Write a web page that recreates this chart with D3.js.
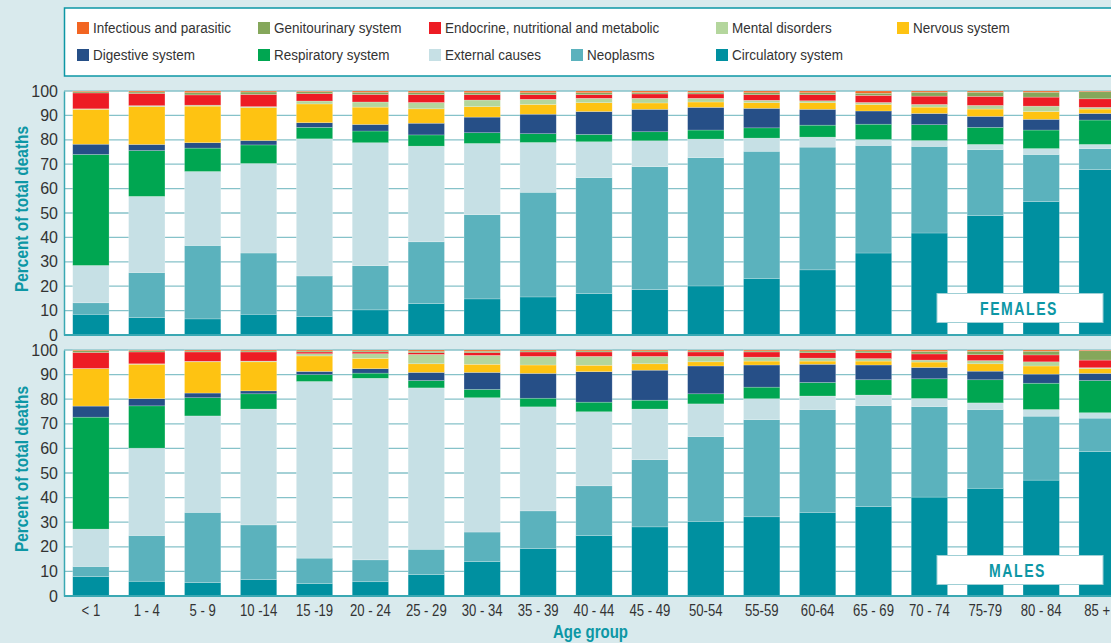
<!DOCTYPE html>
<html>
<head>
<meta charset="utf-8">
<script src="https://cdn.jsdelivr.net/npm/d3@7"></script>
<style>
  body { margin: 0; background: #d9eaed; }
  svg { display: block; }
  text { font-family: "Liberation Sans Narrow", "Arial Narrow", sans-serif; }
</style>
</head>
<body>
<script>

// age groups along the x axis
var ageGroups = ["< 1", "1 - 4", "5 - 9", "10 -14", "15 -19", "20 - 24", "25 - 29", "30 - 34", "35 - 39",
  "40 - 44", "45 - 49", "50-54", "55-59", "60-64", "65 - 69", "70 - 74", "75-79", "80 - 84", "85 +"];

// causes, bottom of the stack first
var causes = ["Circulatory system", "Neoplasms", "External causes", "Respiratory system", "Digestive system",
  "Nervous system", "Mental disorders", "Endocrine, nutritional and metabolic", "Genitourinary system",
  "Infectious and parasitic"];
var causeColors = ["#0090a0", "#5bb2bd", "#c6e0e5", "#00a651", "#264f87",
  "#fec312", "#b4d69d", "#ed1c24", "#85a75b", "#f26522"];

// legend order (two rows)
var legendOrder = ["Infectious and parasitic", "Genitourinary system", "Endocrine, nutritional and metabolic",
  "Mental disorders", "Nervous system", "Digestive system", "Respiratory system", "External causes",
  "Neoplasms", "Circulatory system"];

var yTicks = [0, 10, 20, 30, 40, 50, 60, 70, 80, 90, 100];

// females, percent of total deaths
var fCirculatory = [8.5, 7.1, 6.6, 8.5, 7.5, 10.3, 12.9, 14.8, 15.6, 17, 18.6, 20.1, 23.2, 26.7, 33.6, 41.8, 48.9, 54.7, 67.8];
var fNeoplasms = [4.7, 18.5, 30.1, 25.1, 16.7, 18.1, 25.3, 34.5, 42.9, 47.5, 50.4, 52.6, 52.1, 50.3, 44.1, 35.5, 27.1, 19.3, 8.6];
var fExternal = [15.3, 31.2, 30.3, 36.7, 56.2, 50.4, 39.2, 29.2, 20.4, 14.7, 10.6, 7.6, 5.4, 4.1, 2.4, 2.4, 2.1, 2.4, 1.7];
var fRespiratory = [45.5, 18.8, 9.6, 7.6, 4.7, 4.8, 4.6, 4.4, 3.6, 3, 3.7, 3.7, 4.2, 4.9, 6.3, 6.5, 7, 7.6, 10];
var fDigestive = [4.2, 2.5, 2.2, 1.8, 1.9, 2.7, 4.8, 6.4, 8, 9.4, 9.2, 9.3, 8, 6.5, 5.4, 4.6, 4.5, 4.4, 2.7];
var fNervous = [14.3, 15.5, 15, 13.5, 7.7, 7.1, 5.9, 4.3, 4, 3.6, 2.6, 2.2, 2.3, 2.7, 2.7, 2.6, 3, 3.2, 1.8];
var fMental = [0.2, 0.4, 0.4, 0.4, 1.2, 2.1, 2.6, 2.7, 2.1, 1.8, 1.9, 1.5, 1, 0.8, 0.8, 1.1, 1.5, 2.2, 0.7];
var fEndocrine = [6.5, 5, 4.2, 5, 3, 3.1, 3.2, 2.2, 1.9, 1.5, 1.8, 1.8, 2.3, 2.5, 2.9, 3.4, 3.7, 3.7, 3.5];
var fGenitourinary = [0.5, 0.6, 0.9, 1, 0.8, 0.9, 0.8, 0.8, 0.8, 0.8, 0.6, 0.6, 0.8, 0.8, 0.9, 1.6, 1.7, 2, 2.9];
var fInfectious = [0.3, 0.4, 0.7, 0.4, 0.3, 0.5, 0.7, 0.7, 0.7, 0.7, 0.6, 0.6, 0.7, 0.7, 0.9, 0.5, 0.5, 0.5, 0.3];

// males, percent of total deaths
var mCirculatory = [7.9, 6, 5.4, 6.7, 5, 5.8, 8.7, 14, 19.3, 24.6, 28.1, 30.3, 32.2, 34, 36.4, 40.2, 43.8, 47.1, 58.7];
var mNeoplasms = [4.1, 18.6, 28.6, 22.2, 10.4, 8.9, 10.3, 12, 15.3, 20.2, 27.3, 34.5, 39.5, 41.8, 41, 36.8, 32, 26, 13.6];
var mExternal = [15.2, 35.5, 39.2, 47.1, 71.8, 73.8, 65.6, 54.6, 42.3, 30.1, 20.6, 13.3, 8.5, 5.5, 4.3, 3.3, 2.7, 2.7, 2.2];
var mRespiratory = [45.5, 17.2, 7.4, 6.2, 2.8, 2.1, 3, 3.4, 3.5, 3.9, 3.6, 4.1, 4.7, 5.5, 6.2, 8, 9.4, 10.7, 13.1];
var mDigestive = [4.5, 2.9, 1.9, 1.2, 1.3, 1.8, 3.3, 6.9, 10.1, 12.4, 12.2, 11.3, 9, 7.4, 6, 4.6, 3.5, 3.7, 2.9];
var mNervous = [15.2, 14, 12.7, 11.8, 6.3, 4.2, 3.5, 3.3, 3.4, 2.6, 2.6, 1.7, 1.6, 1.3, 1.6, 2.2, 3, 3.3, 1.9];
var mMental = [0.1, 0.2, 0.2, 0.3, 0.9, 1.9, 3.8, 3.6, 3.5, 3.6, 3, 2.2, 1.6, 1.2, 1, 0.8, 1.3, 1.7, 0.4];
var mEndocrine = [6.5, 4.8, 3.8, 3.7, 0.7, 0.7, 0.7, 1.1, 1.8, 1.8, 1.8, 1.8, 2.1, 2.2, 2.4, 2.5, 2.4, 2.8, 3.1];
var mGenitourinary = [0.7, 0.5, 0.4, 0.4, 0.4, 0.4, 0.6, 0.6, 0.4, 0.4, 0.4, 0.4, 0.4, 0.7, 0.7, 1, 1.4, 1.5, 3.8];
var mInfectious = [0.3, 0.3, 0.4, 0.4, 0.4, 0.4, 0.5, 0.5, 0.4, 0.4, 0.4, 0.4, 0.4, 0.4, 0.4, 0.6, 0.5, 0.5, 0.3];

var femaleSeries = [fCirculatory, fNeoplasms, fExternal, fRespiratory, fDigestive, fNervous, fMental, fEndocrine, fGenitourinary, fInfectious];
var maleSeries = [mCirculatory, mNeoplasms, mExternal, mRespiratory, mDigestive, mNervous, mMental, mEndocrine, mGenitourinary, mInfectious];

var w = 1111;
var h = 643;
var teal = "#0d97a5";
var narrow = "'Liberation Sans Narrow', 'Arial Narrow', sans-serif";

var svg = d3.select("body")
  .append("svg")
  .attr("width", w)
  .attr("height", h);

var color = d3.scaleOrdinal().domain(causes).range(causeColors);

// x scale runs a little past the right edge, like the original crop
var x = d3.scaleBand()
  .domain(ageGroups)
  .range([64, 1124])
  .paddingInner(0.35)
  .paddingOuter(0.156);

// turn the per-cause arrays into rows for d3.stack
function toRows(series) {
  return ageGroups.map(function(g, i) {
    var row = { age: g };
    causes.forEach(function(c, k) { row[c] = series[k][i]; });
    return row;
  });
}

var stack = d3.stack().keys(causes);

// legend box
svg.append("rect")
  .attr("x", 64.5)
  .attr("y", 8)
  .attr("width", 1060)
  .attr("height", 68)
  .attr("fill", "white")
  .attr("stroke", teal)
  .attr("stroke-width", 1.5);

var legendX = [77, 258, 429, 716, 897, 77, 258, 429, 571, 716];
var legend = svg.selectAll("g.legend")
  .data(legendOrder)
  .enter()
  .append("g")
  .attr("class", "legend")
  .attr("transform", function(d, i) {
    return "translate(" + legendX[i] + "," + (i < 5 ? 22 : 49) + ")";
  });
legend.append("rect")
  .attr("width", 12)
  .attr("height", 12)
  .attr("fill", function(d) { return color(d); });
// squeezed a bit, text starts right after the swatch
legend.append("text")
  .attr("x", 16 / 0.93)
  .attr("y", 11)
  .attr("font-size", "14.5px")
  .attr("transform", "scale(0.93,1)")
  .attr("fill", "#333")
  .text(function(d) { return d; });

// one stacked panel
function drawPanel(series, top, bottom, label, boxY, labelX, labelW) {
  var y = d3.scaleLinear().domain([0, 100]).range([bottom, top]);
  var g = svg.append("g");

  // white plot area
  g.append("rect")
    .attr("x", 64)
    .attr("y", top)
    .attr("width", w - 64)
    .attr("height", bottom - top)
    .attr("fill", "white");

  // grid lines
  g.selectAll("line.grid")
    .data(yTicks.slice(1))
    .enter()
    .append("line")
    .attr("class", "grid")
    .attr("x1", 64)
    .attr("x2", w)
    .attr("y1", function(d) { return y(d); })
    .attr("y2", function(d) { return y(d); })
    .attr("stroke", "#86c2c9")
    .attr("stroke-width", 1.3);

  var layers = g.selectAll("g.layer")
    .data(stack(toRows(series)))
    .enter()
    .append("g")
    .attr("class", "layer")
    .attr("fill", function(d) { return color(d.key); });

  layers.selectAll("rect")
    .data(function(d) { return d; })
    .enter()
    .append("rect")
    .attr("x", function(d) { return x(d.data.age); })
    .attr("y", function(d) { return y(d[1]); })
    .attr("width", x.bandwidth())
    .attr("height", function(d) { return y(d[0]) - y(d[1]); })
    .attr("stroke", "rgba(255,255,255,0.35)")
    .attr("stroke-width", 0.6);

  // axes
  var yAxis = d3.axisLeft(y).tickValues(yTicks).tickSize(0).tickPadding(6);
  var ax = g.append("g")
    .attr("transform", "translate(64,0)")
    .call(yAxis);
  ax.select(".domain").attr("stroke", "#3aa8b3").attr("stroke-width", 1.5);
  ax.selectAll("text")
    .attr("font-size", "16px")
    .attr("fill", "#333")
    .style("font-family", narrow);

  g.append("line")
    .attr("x1", 64)
    .attr("x2", w)
    .attr("y1", bottom)
    .attr("y2", bottom)
    .attr("stroke", "#3aa8b3")
    .attr("stroke-width", 2);

  // axis title
  g.append("text")
    .attr("transform", "translate(28," + ((top + bottom) / 2 - 4) + ") rotate(-90)")
    .attr("text-anchor", "middle")
    .attr("font-size", "18px")
    .attr("font-weight", "bold")
    .attr("textLength", 166)
    .attr("lengthAdjust", "spacingAndGlyphs")
    .attr("fill", teal)
    .text("Percent of total deaths");

  // panel label box
  g.append("rect")
    .attr("x", 937)
    .attr("y", boxY)
    .attr("width", 166)
    .attr("height", 29)
    .attr("fill", "white")
    .attr("stroke", "#9fcfd5")
    .attr("stroke-width", 1);
  g.append("text")
    .attr("x", labelX)
    .attr("y", boxY + 21)
    .attr("font-size", "18px")
    .attr("font-weight", "bold")
    .attr("letter-spacing", "2px")
    .attr("textLength", labelW)
    .attr("lengthAdjust", "spacingAndGlyphs")
    .attr("fill", teal)
    .text(label);

  return y;
}

drawPanel(femaleSeries, 91, 335, "FEMALES", 293.5, 980, 78);
drawPanel(maleSeries, 350, 596, "MALES", 555.5, 989, 57);

// x tick labels, squeezed to the condensed look of the original
var xAxis = d3.axisBottom(x).tickSize(0).tickPadding(9);
var xa = svg.append("g")
  .attr("transform", "translate(0,596)")
  .call(xAxis);
xa.select(".domain").remove();
xa.selectAll("text")
  .attr("font-size", "16px")
  .attr("fill", "#333")
  .attr("transform", "scale(0.82,1)")
  .style("font-family", narrow);

svg.append("text")
  .attr("x", 553)
  .attr("y", 638)
  .attr("font-size", "18px")
  .attr("font-weight", "bold")
  .attr("textLength", 75)
  .attr("lengthAdjust", "spacingAndGlyphs")
  .attr("fill", teal)
  .text("Age group");

</script>
</body>
</html>
